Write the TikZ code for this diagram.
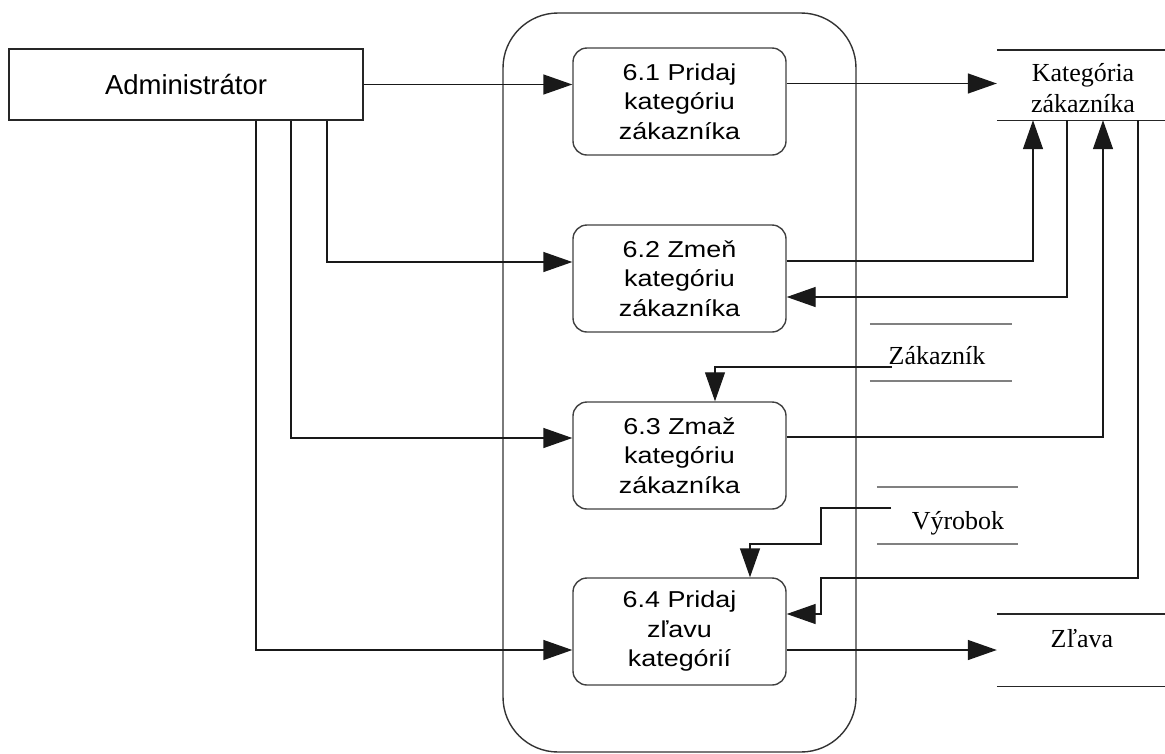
\documentclass[tikz,border=0pt]{standalone}
\usepackage{fontspec}
\setmainfont{Liberation Serif}
\newfontfamily\procfont[FakeStretch=1.17]{Liberation Sans}
\newfontfamily\actorfont{Liberation Sans}
\usetikzlibrary{arrows.meta}

\begin{document}
\begin{tikzpicture}[x=1pt,y=-1pt,
  line/.style={draw=black!90, line width=1.4pt},
  flow/.style={line, -{Triangle[length=29pt,width=20pt]}},
  actor/.style={draw=black!85, line width=1.4pt, minimum width=354pt, minimum height=71pt,
    inner sep=0pt, font=\actorfont\fontsize{27.5}{32}\selectfont},
  proc/.style={draw=black!75, line width=1.4pt, rounded corners=14pt, minimum width=213pt,
    minimum height=107pt, inner sep=0pt, align=center,
    font=\procfont\fontsize{23}{29.5}\selectfont},
  storelabel/.style={font=\fontsize{26}{31}\selectfont, align=center, inner sep=0pt},
  storeline/.style={draw=black!85, line width=1.4pt},
  storelinegray/.style={draw=black!50, line width=2pt},
]
\useasboundingbox (0,0) rectangle (1165,753);

% system boundary
\node[draw=black!80, line width=1.4pt, rounded corners=55pt, minimum width=353pt,
  minimum height=739pt, inner sep=0pt] (boundary) at (679.5,382.5) {};

% external entity
\node[actor] (admin) at (186,84.5) {Administrátor};

% processes
\node[proc] (p1) at (679.5,101.5) {6.1 Pridaj\\kategóriu\\zákazníka};
\node[proc] (p2) at (679.5,278.5) {6.2 Zmeň\\kategóriu\\zákazníka};
\node[proc] (p3) at (679.5,455.5) {6.3 Zmaž\\kategóriu\\zákazníka};
\node[proc] (p4) at (679.5,631.5) {6.4 Pridaj\\zľavu\\kategórií};

% data stores
\node[minimum width=168pt, minimum height=70pt, inner sep=0pt] (kat) at (1081,85) {};
\node[storelabel] (katlabel) at (1083,88.5) {Kategória\\zákazníka};
\draw[storeline] (kat.north west) -- (kat.north east) (kat.south west) -- (kat.south east);

\node[minimum width=142pt, minimum height=57pt, inner sep=0pt] (zak) at (941,352.5) {};
\node[storelabel, anchor=base] (zaklabel) at (937,364) {Zákazník};
\draw[storelinegray] (zak.north west) -- (zak.north east) (zak.south west) -- (zak.south east);

\node[minimum width=141pt, minimum height=57pt, inner sep=0pt] (vyr) at (947.5,515.5) {};
\node[storelabel, anchor=base] (vyrlabel) at (958,529) {Výrobok};
\draw[storelinegray] (vyr.north west) -- (vyr.north east) (vyr.south west) -- (vyr.south east);

\node[minimum width=168pt, minimum height=72pt, inner sep=0pt] (zla) at (1081,650) {};
\node[storelabel, anchor=base] (zlalabel) at (1082,647) {Zľava};
\draw[storeline] (zla.north west) -- (zla.north east) (zla.south west) -- (zla.south east);

% connector ends and bends
\coordinate (zakout) at (892,367);
\coordinate (vyrout) at (891,508);
\coordinate (b1) at (821,578);
\coordinate (b2) at (821,544);

% administrator inputs
\draw[flow] (admin.east) -- (admin.east -| p1.west);
\draw[flow] ([xshift=141pt]admin.south) |- ([yshift=16.5pt]p2.west);
\draw[flow] ([xshift=105pt]admin.south) |- ([yshift=17.5pt]p3.west);
\draw[flow] ([xshift=70pt]admin.south) |- ([yshift=-18.5pt]p4.west);

% flows to and from the customer category store
\draw[flow] ([yshift=18pt]p1.east) -- ([yshift=18pt]p1.east -| kat.west);
\draw[flow] ([yshift=17.5pt]p2.east) -| ([xshift=-48pt]kat.south);
\draw[flow] ([xshift=-14pt]kat.south) |- ([yshift=-18.5pt]p2.east);
\draw[flow] ([yshift=18.5pt]p3.east) -| ([xshift=22pt]kat.south);
\draw[flow] ([xshift=57pt]kat.south) |- (b1) |- ([yshift=17.5pt]p4.east);

% other stores
\draw[flow, line width=1.1pt] (zakout) -| ([xshift=35.5pt]p3.north);
\draw[flow] (vyrout) -| (b2) -| ([xshift=70.5pt]p4.north);
\draw[flow] ([yshift=-18.5pt]p4.east) -- (zla.west);
\end{tikzpicture}
\end{document}
